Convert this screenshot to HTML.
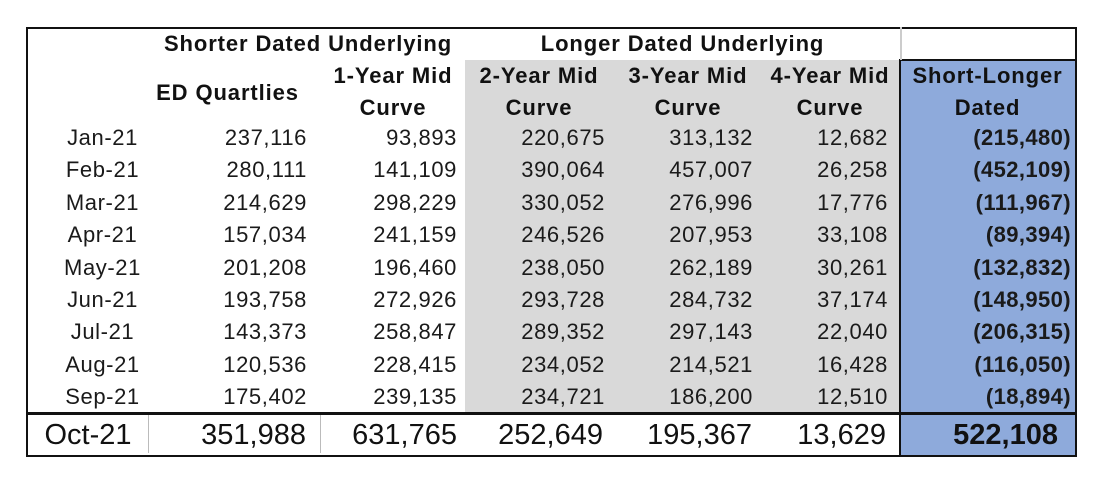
<!DOCTYPE html>
<html><head><style>
body{margin:0;width:1100px;height:479px;background:#fff;position:relative;font-family:"Liberation Sans",Arial,sans-serif;overflow:hidden}
.a{position:absolute;white-space:nowrap;line-height:1}
.h{font-weight:bold;font-size:22px;letter-spacing:0.9px;color:#111}
.d{font-size:22px;letter-spacing:0.6px;color:#1a1a1a}
.r{text-align:right}
.c{text-align:center}
.o{font-size:29px;color:#111}
</style></head><body>
<div class="a" style="left:465px;top:60px;width:435px;height:355px;background:#d9d9d9"></div>
<div class="a" style="left:900px;top:60px;width:175px;height:395px;background:#8eaadb"></div>
<div class="a" style="left:26px;top:27px;width:1047px;height:426px;border:2px solid #111"></div>
<div class="a" style="left:899px;top:59px;width:174px;height:394px;border:2px solid #111;border-bottom:none;border-right:none"></div>
<div class="a" style="left:900px;top:27px;width:2px;height:33px;background:#ccc"></div>
<div class="a" style="left:26px;top:412px;width:1050px;height:3px;background:#111"></div>
<div class="a" style="left:148px;top:415px;width:1px;height:38px;background:#bbb"></div>
<div class="a" style="left:320px;top:415px;width:1px;height:38px;background:#bbb"></div>

<div class="a h c" style="left:150px;top:33px;width:316px">Shorter Dated Underlying</div>
<div class="a h c" style="left:465px;top:33px;width:435px">Longer Dated Underlying</div>
<div class="a h c" style="left:140px;top:82px;width:175px">ED Quartlies</div>
<div class="a h c" style="left:318px;top:65px;width:150px">1-Year Mid</div>
<div class="a h c" style="left:318px;top:97px;width:150px">Curve</div>
<div class="a h c" style="left:465px;top:65px;width:148px">2-Year Mid</div>
<div class="a h c" style="left:465px;top:97px;width:148px">Curve</div>
<div class="a h c" style="left:616px;top:65px;width:144px">3-Year Mid</div>
<div class="a h c" style="left:616px;top:97px;width:144px">Curve</div>
<div class="a h c" style="left:760px;top:65px;width:140px">4-Year Mid</div>
<div class="a h c" style="left:760px;top:97px;width:140px">Curve</div>
<div class="a h c" style="left:900px;top:65px;width:175px">Short-Longer</div>
<div class="a h c" style="left:900px;top:97px;width:175px">Dated</div>

<div id="rows"></div>
<script>
var data=[["Jan-21","237,116","93,893","220,675","313,132","12,682","(215,480)"],
["Feb-21","280,111","141,109","390,064","457,007","26,258","(452,109)"],
["Mar-21","214,629","298,229","330,052","276,996","17,776","(111,967)"],
["Apr-21","157,034","241,159","246,526","207,953","33,108","(89,394)"],
["May-21","201,208","196,460","238,050","262,189","30,261","(132,832)"],
["Jun-21","193,758","272,926","293,728","284,732","37,174","(148,950)"],
["Jul-21","143,373","258,847","289,352","297,143","22,040","(206,315)"],
["Aug-21","120,536","228,415","234,052","214,521","16,428","(116,050)"],
["Sep-21","175,402","239,135","234,721","186,200","12,510","(18,894)"]];
var rights=[307,457,605,753,888,1071];
var h="";
data.forEach(function(r,i){var t=127+i*32.4;
h+='<div class="a d c" style="left:40px;top:'+t+'px;width:125px">'+r[0]+'</div>';
for(var j=1;j<7;j++){h+='<div class="a d r'+(j==6?' h':'')+'" style="left:'+(rights[j-1]-200)+'px;top:'+t+'px;width:200px;'+(j==6?'letter-spacing:0.4px':'')+'">'+r[j]+'</div>';}
});
var o=["Oct-21","351,988","631,765","252,649","195,367","13,629","522,108"];
h+='<div class="a o c" style="left:28px;top:421px;width:120px">'+o[0]+'</div>';
var orr=[306,457,603,752,886,1058];
for(var j=1;j<7;j++){h+='<div class="a o r" style="left:'+(orr[j-1]-200)+'px;top:421px;width:200px;'+(j==6?'font-weight:bold':'')+'">'+o[j]+'</div>';}
document.getElementById('rows').innerHTML=h;
</script>
</body></html>
